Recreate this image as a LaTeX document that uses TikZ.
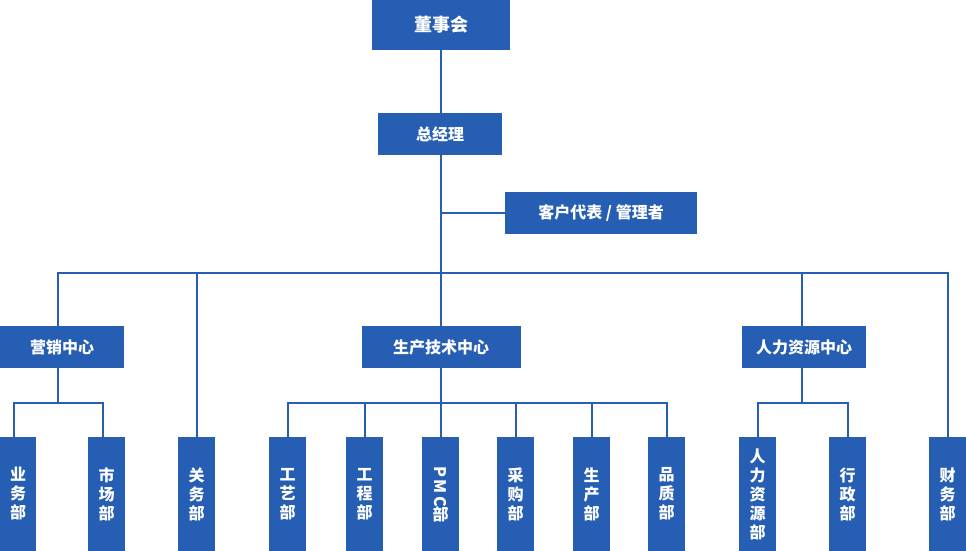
\documentclass[tikz,border=0pt]{standalone}
\usepackage{fontspec}
\setmainfont{Noto Sans CJK SC}
\usepackage{graphicx}
\definecolor{bl}{HTML}{265EB4}
\tikzset{
  box/.style={fill=bl, text=white, inner sep=0pt, align=center,
    font=\bfseries\fontsize{16}{19}\selectfont},
  hbox/.style={box, minimum height=42},
  vbox/.style={box, minimum width=37, minimum height=114},
  conn/.style={draw=bl, line width=2pt}
}
\begin{document}
\begin{tikzpicture}[x=1pt,y=-1pt]
\useasboundingbox (0,0) rectangle (966,551);
% top
\node[box, minimum width=138, minimum height=50, font=\bfseries\fontsize{18}{20}\selectfont] (dsh) at (441,25) {董事会};
\node[hbox, minimum width=124] (zjl) at (440,134) {总经理};
\node[hbox, minimum width=192] (khdb) at (601,213) {客户代表 / 管理者};
% centers
\node[hbox, minimum width=124] (yx) at (62,347) {营销中心};
\node[hbox, minimum width=159] (sc) at (441,347) {生产技术中心};
\node[hbox, minimum width=124] (rl) at (804,347) {人力资源中心};
% departments
\node[vbox, minimum width=36] (ywb) at (18,494) {业\\务\\部};
\node[vbox] (scb) at (106.5,494) {市\\场\\部};
\node[vbox] (gwb) at (196.5,494) {关\\务\\部};
\node[vbox] (gyb) at (287.5,494) {工\\艺\\部};
\node[vbox] (gcb) at (364.5,494) {工\\程\\部};
\node[vbox] (pmc) at (440.5,494) {\rotatebox{-90}{P\,M\,C}\\[-2pt]部};
\node[vbox] (cgb) at (515.5,494) {采\\购\\部};
\node[vbox] (scbb) at (591.5,494) {生\\产\\部};
\node[vbox] (pzb) at (666.5,494) {品\\质\\部};
\node[vbox] (rlb) at (757.5,494) {人\\力\\资\\源\\部};
\node[vbox] (xzb) at (847.5,494) {行\\政\\部};
\node[vbox] (cwb) at (947.5,494) {财\\务\\部};
% junctions
\coordinate (bus) at (441,273);
\coordinate (yxj) at (58,403);
\coordinate (scj) at (441,403);
\coordinate (rlj) at (802,403);
% connectors
\draw[conn] (dsh.south -| bus) -- (zjl.north -| bus);
\draw[conn] (zjl.south -| bus) -- (bus);
\draw[conn] (khdb.west) -- (khdb.west -| bus);
\draw[conn] ([xshift=-4pt]yx.north) |- (bus) -| (cwb.north);
\draw[conn] (gwb.north) -- (gwb.north |- bus);
\draw[conn] (sc.north) -- (bus);
\draw[conn] (rl.north -| rlj) -- (rlj |- bus);
% marketing
\draw[conn] ([xshift=-4pt]yx.south) -- (yxj);
\draw[conn] ([xshift=-4pt]ywb.north) |- (yxj) -| ([xshift=-3.5pt]scb.north);
% production
\draw[conn] (sc.south) -- (scj);
\draw[conn] (gyb.north) |- (scj) -| (pzb.north);
\draw[conn] (gcb.north) -- (gcb.north |- scj);
\draw[conn] (pmc.north) -- (pmc.north |- scj);
\draw[conn] (cgb.north) -- (cgb.north |- scj);
\draw[conn] (scbb.north) -- (scbb.north |- scj);
% HR
\draw[conn] (rl.south -| rlj) -- (rlj);
\draw[conn] (rlb.north) |- (rlj) -| (xzb.north);
\end{tikzpicture}
\end{document}
